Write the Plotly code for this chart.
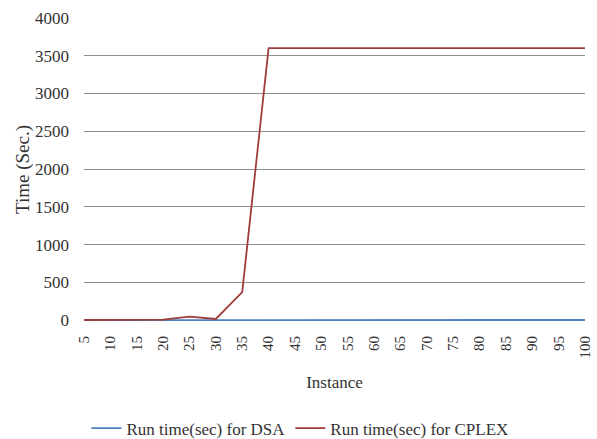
import plotly.graph_objects as go

instances = [str(v) for v in range(5, 105, 5)]
dsa_time = [0.3, 0.3, 0.4, 0.4, 0.5, 0.5, 0.6, 0.6, 0.7, 0.7, 0.8, 0.8, 0.9, 0.9,
            1.0, 1.0, 1.1, 1.1, 1.2, 1.2]
cplex_time = [1, 2, 3, 5, 45, 15, 370, 3600, 3600, 3600, 3600, 3600, 3600, 3600,
              3600, 3600, 3600, 3600, 3600, 3600]
y_ticks = list(range(0, 4500, 500))

font_family = "Liberation Serif, Times New Roman, serif"

fig = go.Figure()
fig.add_trace(go.Scatter(x=instances, y=dsa_time, mode="lines",
                         name="Run time(sec) for DSA",
                         line=dict(color="#4f81bd", width=1.8)))
fig.add_trace(go.Scatter(x=instances, y=cplex_time, mode="lines",
                         name="Run time(sec) for CPLEX",
                         line=dict(color="#9e3d3b", width=1.8)))

fig.update_layout(
    width=597, height=439,
    margin=dict(l=84, r=12, t=18, b=118, autoexpand=False),
    paper_bgcolor="white", plot_bgcolor="white",
    font=dict(family=font_family, size=16, color="#333333"),
    showlegend=True,
    legend=dict(orientation="h", x=0.431, xanchor="center", y=-0.355, yanchor="middle",
                font=dict(family=font_family, size=17, color="#333333"),
                itemwidth=30, bgcolor="rgba(0,0,0,0)"),
    xaxis=dict(
        type="category", range=[0, len(instances) - 1],
        tickangle=-90, showgrid=False, zeroline=False, automargin=False,
        showline=False, ticklabelstandoff=11,
        tickfont=dict(family=font_family, size=15),
        title=dict(text="Instance", font=dict(family=font_family, size=17), standoff=18),
    ),
    yaxis=dict(
        range=[-12, 4000], tickvals=y_ticks, automargin=False,
        showgrid=True, gridcolor="#8f8f8f", gridwidth=1,
        zeroline=False, showline=False, ticklabelstandoff=14, layer="below traces",
        tickfont=dict(family=font_family, size=17),
        title=dict(text="Time (Sec.)", font=dict(family=font_family, size=19), standoff=0),
    ),
)

fig.write_html("out.html", config={"displayModeBar": False},
               post_script="document.body.style.margin='0';")
